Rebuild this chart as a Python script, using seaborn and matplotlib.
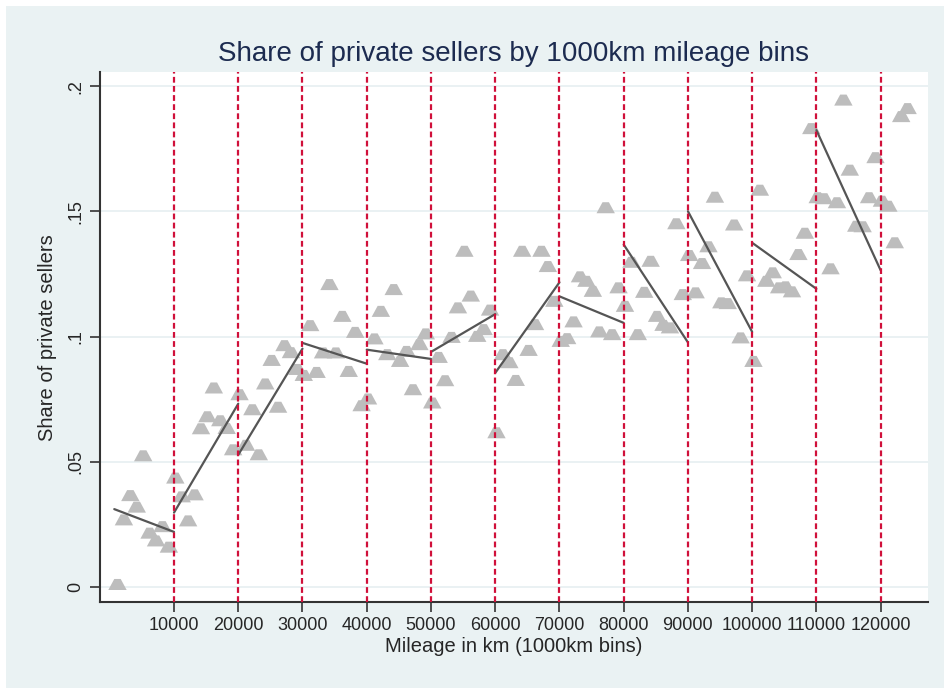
import numpy as np
import pandas as pd
import seaborn as sns
import matplotlib.pyplot as plt
from matplotlib.patches import Rectangle

# share of private sellers per 1000km bin (bins 1..124)
bins = np.arange(1, 125)
share = [
    0.001, 0.0268, 0.0365, 0.0319, 0.0524, 0.0215, 0.0184, 0.0241, 0.0159, 0.0435,
    0.036, 0.0264, 0.0368, 0.0632, 0.068, 0.0795, 0.0664, 0.0633, 0.0548, 0.0768,
    0.0566, 0.0708, 0.0528, 0.0811, 0.0905, 0.0718, 0.0964, 0.0936, 0.0869, 0.0845,
    0.1044, 0.0857, 0.0935, 0.1208, 0.0935, 0.1081, 0.0861, 0.1017, 0.0724, 0.0751,
    0.0991, 0.1101, 0.0928, 0.1188, 0.0901, 0.0941, 0.0788, 0.0968, 0.1011, 0.0735,
    0.0917, 0.0824, 0.0997, 0.1115, 0.1341, 0.1162, 0.1001, 0.1028, 0.1106, 0.0616,
    0.0928, 0.0896, 0.0825, 0.1341, 0.0945, 0.1048, 0.1341, 0.128, 0.1141, 0.0981,
    0.0992, 0.1059, 0.1239, 0.1221, 0.1181, 0.1019, 0.1515, 0.1008, 0.1195, 0.1121,
    0.1297, 0.1008, 0.1177, 0.1301, 0.1081, 0.1045, 0.1035, 0.1451, 0.1168, 0.1324,
    0.1175, 0.1292, 0.1359, 0.1557, 0.1135, 0.1132, 0.1446, 0.0995, 0.1243, 0.0901,
    0.1585, 0.1221, 0.1255, 0.1195, 0.1199, 0.1179, 0.1328, 0.1413, 0.1831, 0.1555,
    0.1551, 0.1271, 0.1535, 0.1945, 0.1665, 0.1441, 0.1439, 0.1555, 0.1715, 0.1541,
    0.1521, 0.1375, 0.1879, 0.1911,
]

# linear fits within each 10000km segment: start x, end x, start y, end y
seg_start = [700, 10000, 20000, 30000, 40000, 50000, 60000, 70000, 80000, 90000, 100000, 110000]
seg_end = [10000, 20000, 30000, 40000, 50000, 60000, 70000, 80000, 90000, 100000, 110000, 120000]
fit_start = [0.0311, 0.0297, 0.0528, 0.0975, 0.0948, 0.0939, 0.0855, 0.1161, 0.1368, 0.1501, 0.1375, 0.1825]
fit_end = [0.022, 0.0732, 0.0952, 0.0892, 0.0911, 0.109, 0.1217, 0.1055, 0.0977, 0.1019, 0.1191, 0.1265]

cutoffs = [10000, 20000, 30000, 40000, 50000, 60000, 70000, 80000, 90000, 100000, 110000, 120000]
yticks = [0, 0.05, 0.1, 0.15, 0.2]
ylabels = ["0", ".05", ".1", ".15", ".2"]

df = pd.DataFrame({"mileage": bins * 1000 + 200, "share": share})
fits = pd.DataFrame({
    "seg": list(range(len(seg_start))) * 2,
    "x": seg_start + seg_end,
    "y": fit_start + fit_end,
})

sns.set_style("white")
plt.rcParams["font.family"] = ["Liberation Sans", "DejaVu Sans"]

fig = plt.figure(figsize=(9.45, 6.88), dpi=100)
fig.patches.append(Rectangle((0.0065, 0), 1, 0.992, transform=fig.transFigure,
                             facecolor="#eaf2f3", edgecolor="none", zorder=-10))
ax = fig.add_axes([0.1058, 0.125, 0.982 - 0.1058, 0.8949 - 0.125])
ax.set_facecolor("white")

for yt in yticks:
    ax.axhline(yt, color="#e6eff1", lw=1.2, zorder=0)

# flat stata-like triangle
tri = [(-1, -0.6), (1, -0.6), (0.35, 0.6), (-0.35, 0.6), (-1, -0.6)]
sns.scatterplot(data=df, x="mileage", y="share", marker=tri, s=175, color="#bdbdbd",
                edgecolor="none", ax=ax, zorder=2)
sns.lineplot(data=fits, x="x", y="y", units="seg", estimator=None, color="#555555",
             lw=1.6, ax=ax, zorder=3)

for c in cutoffs:
    ax.axvline(c, color="#d0103a", lw=1.6, dashes=(2.6, 1.5), zorder=4)

ax.set_xlim(-1525, 127370)
ax.set_ylim(-0.006, 0.2056)
ax.set_xticks(cutoffs)
ax.set_xticklabels([str(c) for c in cutoffs], fontsize=13)
ax.set_yticks(yticks)
ax.set_yticklabels(ylabels, fontsize=13, rotation=90, va="center")
ax.tick_params(axis="both", direction="out", length=7, width=1.2, color="#333333",
               left=True, bottom=True, pad=4)

for side in ["top", "right"]:
    ax.spines[side].set_visible(False)
for side in ["left", "bottom"]:
    ax.spines[side].set_color("#333333")
    ax.spines[side].set_linewidth(1.5)

ax.set_xlabel("Mileage in km (1000km bins)", fontsize=14.5, labelpad=2)
ax.set_ylabel("Share of private sellers", fontsize=14.5, labelpad=8)
ax.set_title("Share of private sellers by 1000km mileage bins", fontsize=20,
             color="#1c2b50", pad=8)

plt.savefig("out.png", dpi=100)
